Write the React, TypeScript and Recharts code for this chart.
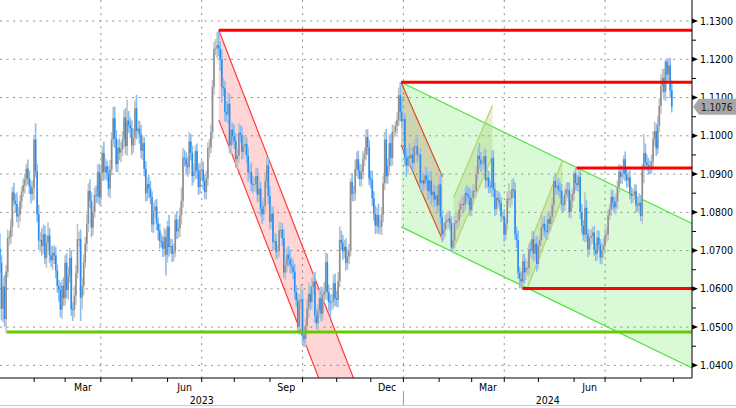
import React from "react";
import {
  ComposedChart, Bar, XAxis, YAxis, CartesianGrid, ReferenceArea, ReferenceLine,
} from "recharts";

// EUR/USD daily closes, one per weekday, Jan 2 2023 .. Aug 29 2024
const closes2023 = [
  // Jan
  1.0668, 1.0548, 1.0606, 1.0521, 1.0645, 1.0733, 1.0736, 1.0762, 1.0852, 1.0830, 1.0822, 1.0789, 1.0794, 1.0829, 1.0855, 1.0871, 1.0886, 1.0914, 1.0889, 1.0868, 1.0848, 1.0863,
  // Feb
  1.0990, 1.0907, 1.0795, 1.0727, 1.0728, 1.0712, 1.0743, 1.0680, 1.0722, 1.0739, 1.0688, 1.0675, 1.0694, 1.0687, 1.0648, 1.0608, 1.0597, 1.0546, 1.0608, 1.0576,
  // Mar
  1.0668, 1.0597, 1.0635, 1.0681, 1.0547, 1.0546, 1.0583, 1.0642, 1.0730, 1.0730, 1.0577, 1.0608, 1.0670, 1.0718, 1.0770, 1.0856, 1.0830, 1.0760, 1.0800, 1.0845, 1.0843, 1.0905, 1.0839,
  // Apr
  1.0901, 1.0955, 1.0905, 1.0920, 1.0902, 1.0862, 1.0912, 1.0990, 1.1046, 1.0993, 1.0926, 1.0969, 1.0956, 1.0965, 1.0990, 1.1048, 1.0973, 1.1040, 1.1028, 1.1020,
  // May
  1.0975, 1.0995, 1.1072, 1.1012, 1.1019, 1.1004, 1.0961, 1.0981, 1.0914, 1.0850, 1.0874, 1.0862, 1.0840, 1.0768, 1.0805, 1.0815, 1.0771, 1.0752, 1.0725, 1.0723, 1.0705, 1.0735, 1.0689,
  // Jun
  1.0763, 1.0709, 1.0712, 1.0692, 1.0698, 1.0781, 1.0750, 1.0758, 1.0793, 1.0830, 1.0943, 1.0939, 1.0924, 1.0918, 1.0985, 1.0956, 1.0895, 1.0906, 1.0960, 1.0910, 1.0866, 1.0909,
  // Jul
  1.0912, 1.0881, 1.0853, 1.0889, 1.0968, 1.0970, 1.1009, 1.1128, 1.1226, 1.1228, 1.1237, 1.1228, 1.1200, 1.1128, 1.1124, 1.1063, 1.1056, 1.1084, 1.0975, 1.1016, 1.0999,
  // Aug
  1.0986, 1.0939, 1.0948, 1.1008, 1.1002, 1.0958, 1.0974, 1.0979, 1.0948, 1.0905, 1.0905, 1.0875, 1.0872, 1.0874, 1.0895, 1.0846, 1.0862, 1.0809, 1.0795, 1.0817, 1.0881, 1.0923, 1.0843,
  // Sep
  1.0775, 1.0797, 1.0722, 1.0725, 1.0697, 1.0699, 1.0753, 1.0754, 1.0732, 1.0643, 1.0661, 1.0690, 1.0678, 1.0663, 1.0658, 1.0645, 1.0592, 1.0571, 1.0501, 1.0567, 1.0573,
  // Oct
  1.0479, 1.0469, 1.0504, 1.0549, 1.0587, 1.0565, 1.0605, 1.0619, 1.0530, 1.0510, 1.0542, 1.0576, 1.0535, 1.0584, 1.0593, 1.0670, 1.0591, 1.0566, 1.0564, 1.0567, 1.0615, 1.0575,
  // Nov
  1.0571, 1.0620, 1.0728, 1.0721, 1.0698, 1.0710, 1.0668, 1.0684, 1.0700, 1.0880, 1.0848, 1.0850, 1.0913, 1.0939, 1.0909, 1.0887, 1.0905, 1.0940, 1.0951, 1.0997, 1.0970, 1.0889,
  // Dec
  1.0884, 1.0837, 1.0796, 1.0765, 1.0793, 1.0762, 1.0763, 1.0794, 1.0876, 1.0990, 1.0894, 1.0921, 1.0981, 1.0942, 1.1010, 1.1012, 1.1026, 1.1041, 1.1106, 1.1062, 1.1038,
];

const closes2024 = [
  // Jan
  1.1044, 1.0942, 1.0922, 1.0946, 1.0942, 1.0951, 1.0929, 1.0972, 1.0973, 1.0951, 1.0951, 1.0877, 1.0884, 1.0875, 1.0897, 1.0885, 1.0855, 1.0883, 1.0845, 1.0854, 1.0833, 1.0844, 1.0818,
  // Feb
  1.0873, 1.0788, 1.0742, 1.0755, 1.0773, 1.0779, 1.0784, 1.0772, 1.0708, 1.0726, 1.0772, 1.0777, 1.0779, 1.0807, 1.0821, 1.0822, 1.0821, 1.0851, 1.0845, 1.0839, 1.0805,
  // Mar
  1.0838, 1.0856, 1.0856, 1.0900, 1.0948, 1.0938, 1.0926, 1.0927, 1.0947, 1.0883, 1.0891, 1.0868, 1.0865, 1.0942, 1.0860, 1.0808, 1.0838, 1.0832, 1.0825, 1.0790, 1.0790,
  // Apr
  1.0742, 1.0771, 1.0835, 1.0836, 1.0837, 1.0861, 1.0858, 1.0743, 1.0727, 1.0642, 1.0626, 1.0619, 1.0672, 1.0643, 1.0655, 1.0655, 1.0703, 1.0699, 1.0730, 1.0692, 1.0718, 1.0665,
  // May
  1.0713, 1.0727, 1.0761, 1.0770, 1.0752, 1.0748, 1.0782, 1.0770, 1.0789, 1.0819, 1.0882, 1.0865, 1.0870, 1.0858, 1.0856, 1.0822, 1.0819, 1.0847, 1.0859, 1.0858, 1.0801, 1.0831, 1.0848,
  // Jun
  1.0902, 1.0876, 1.0871, 1.0893, 1.0801, 1.0765, 1.0741, 1.0812, 1.0742, 1.0703, 1.0733, 1.0738, 1.0747, 1.0702, 1.0692, 1.0734, 1.0715, 1.0682, 1.0701, 1.0713,
  // Jul
  1.0740, 1.0743, 1.0792, 1.0809, 1.0840, 1.0826, 1.0813, 1.0829, 1.0865, 1.0906, 1.0893, 1.0901, 1.0939, 1.0899, 1.0884, 1.0891, 1.0849, 1.0843, 1.0847, 1.0855, 1.0819, 1.0817, 1.0825,
  // Aug
  1.0790, 1.0911, 1.0955, 1.0931, 1.0924, 1.0920, 1.0917, 1.0933, 1.0992, 1.1012, 1.0967, 1.1027, 1.1078, 1.1130, 1.1151, 1.1115, 1.1194, 1.1160, 1.1184, 1.1119, 1.1076,
];

// wick length above / below the candle body, in pips
const highWick = [
  40, 20, 25, 30, 18, 22, 15, 20, 14, 25, 18, 30, 20, 16, 12, 18, 15, 12, 24, 20, 15, 20,
  10, 43, 20, 25, 20, 30, 25, 22, 18, 35, 20, 25, 18, 20, 22, 18, 15, 20, 15, 22,
  20, 25, 22, 26, 20, 18, 25, 20, 40, 20, 25, 22, 20, 18, 25, 20, 30, 22, 18, 20, 25, 20, 22,
  20, 18, 30, 22, 15, 20, 25, 20, 30, 30, 22, 20, 25, 18, 22, 20, 25, 55, 25, 20,
  20, 25, 20, 35, 22, 20, 25, 20, 15, 20, 18, 25, 20, 15, 22, 18, 20, 15, 18, 20, 15, 25, 20,
  15, 30, 20, 18, 20, 15, 22, 25, 20, 35, 25, 20, 18, 22, 25, 20, 18, 22, 15, 20, 18, 20,
  25, 20, 18, 20, 15, 22, 20, 18, 20, 25, 35, 39, 20, 25, 22, 20, 28, 30, 25, 20, 18,
  30, 20, 18, 25, 20, 22, 25, 20, 18, 22, 20, 25, 20, 18, 20, 22, 30, 18, 20, 22, 25, 22, 20,
  25, 20, 18, 22, 20, 15, 22, 20, 18, 25, 20, 18, 22, 25, 20, 18, 20, 18, 15, 20, 40,
  25, 20, 20, 25, 30, 22, 25, 20, 25, 20, 18, 22, 30, 20, 25, 25, 22, 20, 18, 20, 22, 25,
  20, 25, 35, 25, 20, 18, 22, 20, 18, 8, 22, 20, 25, 20, 22, 18, 20, 20, 18, 20, 20, 18,
  20, 25, 18, 22, 20, 30, 18, 20, 20, 20, 28, 20, 22, 25, 20, 15, 12, 20, 20, 34, 40,
  20, 15, 25, 22, 35, 20, 18, 20, 30, 25, 18, 15, 20, 18, 20, 22, 20, 25, 25, 20, 18, 25, 25,
  25, 30, 18, 20, 20, 22, 20, 20, 18, 20, 18, 25, 20, 20, 18, 25, 20, 15, 20, 20, 25,
  20, 18, 15, 20, 20, 33, 20, 18, 20, 18, 20, 18, 15, 20, 20, 18, 20, 18, 20, 15, 10,
  18, 15, 20, 40, 20, 25, 28, 20, 20, 25, 15, 20, 18, 20, 25, 18, 15, 20, 22, 20, 18, 20,
  20, 15, 40, 18, 20, 15, 18, 20, 15, 20, 12, 20, 18, 20, 22, 18, 20, 15, 18, 20, 20, 18, 15,
  5, 14, 20, 20, 15, 20, 15, 40, 20, 15, 20, 18, 15, 18, 18, 20, 18, 15, 20, 20,
  18, 20, 15, 12, 20, 18, 15, 20, 18, 20, 18, 20, 9, 20, 18, 15, 20, 18, 15, 20, 18, 20, 25,
  20, 15, 50, 25, 20, 18, 15, 18, 20, 25, 20, 25, 20, 30, 23, 25, 7, 8, 18, 20, 25,
];

const lowWick = [
  25, 30, 35, 20, 38, 15, 20, 18, 25, 12, 22, 15, 30, 18, 20, 15, 22, 18, 16, 20, 25, 18,
  30, 15, 20, 25, 30, 25, 20, 15, 25, 22, 20, 18, 25, 22, 20, 18, 30, 20, 25, 20,
  20, 22, 25, 20, 18, 30, 20, 25, 15, 20, 61, 30, 25, 15, 20, 22, 18, 25, 20, 15, 20, 18, 20,
  25, 20, 22, 18, 20, 20, 25, 15, 18, 25, 20, 22, 20, 25, 18, 20, 22, 25, 20, 25,
  25, 20, 20, 22, 18, 25, 20, 25, 20, 22, 20, 25, 18, 20, 22, 20, 18, 25, 20, 15, 22, 20, 54,
  20, 25, 18, 22, 20, 15, 20, 18, 22, 25, 18, 20, 22, 25, 18, 20, 25, 18, 20, 22, 20, 18,
  20, 22, 18, 20, 20, 25, 15, 18, 20, 15, 25, 20, 30, 40, 20, 25, 20, 25, 20, 25, 22,
  20, 22, 25, 18, 20, 20, 18, 22, 20, 25, 18, 20, 22, 18, 20, 20, 18, 20, 25, 18, 20, 18, 22,
  20, 18, 22, 20, 18, 20, 15, 18, 20, 15, 20, 18, 20, 22, 18, 20, 20, 18, 15, 20, 20,
  20, 21, 20, 18, 25, 20, 18, 20, 18, 15, 20, 18, 20, 18, 20, 20, 22, 25, 40, 20, 18, 20,
  18, 20, 15, 20, 22, 18, 20, 18, 20, 15, 20, 18, 20, 18, 22, 18, 20, 18, 20, 15, 20, 18,
  20, 20, 18, 22, 20, 18, 20, 22, 20, 18, 18, 20, 18, 22, 20, 15, 12, 20, 15, 25, 18,
  25, 20, 30, 20, 20, 18, 20, 22, 25, 20, 15, 18, 20, 18, 20, 25, 22, 20, 25, 18, 20, 15, 20,
  18, 20, 20, 15, 20, 18, 20, 18, 12, 13, 20, 18, 20, 18, 20, 18, 20, 15, 18, 20, 15,
  15, 20, 18, 15, 18, 25, 20, 18, 15, 20, 20, 18, 15, 25, 20, 18, 15, 18, 20, 15, 10,
  20, 15, 18, 20, 25, 18, 20, 15, 20, 15, 25, 18, 20, 30, 20, 20, 18, 15, 20, 20, 18, 20,
  12, 18, 15, 20, 15, 18, 20, 22, 18, 15, 20, 18, 20, 15, 20, 18, 20, 15, 18, 20, 15, 18, 20,
  18, 20, 15, 20, 18, 20, 15, 20, 18, 20, 15, 18, 20, 15, 20, 18, 15, 16, 18, 20,
  20, 18, 15, 12, 18, 20, 15, 18, 20, 15, 18, 20, 15, 18, 20, 18, 15, 20, 18, 15, 20, 15, 20,
  13, 20, 35, 18, 15, 20, 18, 15, 20, 18, 20, 15, 18, 20, 18, 20, 25, 20, 15, 20, 15,
];

const firstOpen = 1.0705;

// axis labels (x in weekday index)
const monthStarts = [22, 42, 65, 85, 108, 130, 151, 174, 195, 217, 239, 260, 283, 304, 325, 347, 370, 390, 413, 434];
const quarterStarts = [65, 130, 195, 260, 325, 390];
const monthLabels = ["Mar", "Jun", "Sep", "Dec", "Mar", "Jun"];
const monthLabelPos = [53.5, 119, 184.5, 249.5, 314.5, 380];
const yearLabels = ["2023", "2024"];
const yearLabelPos = [130, 353];
const priceTicks = [1.04, 1.05, 1.06, 1.07, 1.08, 1.09, 1.10, 1.11, 1.12, 1.13];
const minorTicks = [1.045, 1.055, 1.065, 1.075, 1.085, 1.095, 1.105, 1.115, 1.125];

// drawn levels: [price, start index]
const redLevels = [[1.1276, 141], [1.1140, 258.5], [1.0916, 371.6], [1.0601, 336.8]];
const greenLevel = [1.0487, 4.5];

// channels: corners [index, price] — edges 0->1 and 3->2 are stroked
const redChannel = [[141, 1.1276], [227.8, 1.0367], [205.4, 1.0367], [141, 1.1041]];
const greenChannel = [[258.5, 1.1140], [446, 1.0771], [446, 1.0393], [258.5, 1.0762]];
const brownChannel = [[258.5, 1.1140], [285.2, 1.0893], [285.2, 1.0728], [258.5, 1.0976]];
const oliveChannelA = [[292.3, 1.0838], [317.4, 1.1080], [317.4, 1.0947], [292.3, 1.0705]];
const oliveChannelB = [[340, 1.0702], [362.6, 1.0937], [362.6, 1.0838], [340, 1.0603]];

const X_MAX = 446;
const Y_MIN = 1.0367;
const Y_MAX = 1.1355;
const FONT = "Tahoma, 'DejaVu Sans Condensed', 'Liberation Sans', sans-serif";

const closes = [...closes2023, ...closes2024];
const lastClose = closes[closes.length - 1];

const candles = closes.map((c, i) => {
  const o = i === 0 ? firstOpen : closes[i - 1];
  const hi = Math.max(o, c) + (highWick[i] ?? 15) / 10000;
  const lo = Math.min(o, c) - (lowWick[i] ?? 15) / 10000;
  return { i, o, c, hi, lo, range: [lo, hi] };
});

function Candle(props: any) {
  const { x, y, width, height, payload } = props;
  if (!payload || x == null) return null;
  const cx = x + width / 2;
  const top = Math.min(y, y + height);
  const h = Math.abs(height);
  const span = payload.hi - payload.lo || 1e-9;
  const py = (v: number) => top + ((payload.hi - v) / span) * h;
  const up = payload.c >= payload.o;
  const b1 = py(Math.max(payload.o, payload.c));
  const b2 = py(Math.min(payload.o, payload.c));
  return (
    <g>
      <rect x={cx - 0.8} y={top} width={1.6} height={Math.max(h, 1)} fill={up ? "#c2c2c2" : "#86bdf4"} />
      <rect x={cx - 0.8} y={b1} width={1.6} height={Math.max(b2 - b1, 1)} fill={up ? "#8e8e8e" : "#2a8cf0"} />
    </g>
  );
}

function channel(pts: number[][], fill: string, opacity: number, stroke: string) {
  const xs = pts.map((p) => p[0]);
  const vs = pts.map((p) => p[1]);
  const x1 = Math.min(...xs), x2 = Math.max(...xs);
  const v1 = Math.min(...vs), v2 = Math.max(...vs);
  const shape = (p: any) => {
    const left = Math.min(p.x, p.x + p.width);
    const top = Math.min(p.y, p.y + p.height);
    const w = Math.abs(p.width), h = Math.abs(p.height);
    const P = pts.map(([d, v]) => [left + ((d - x1) / (x2 - x1)) * w, top + ((v2 - v) / (v2 - v1)) * h]);
    return (
      <g>
        <polygon points={P.map((q) => q.join(",")).join(" ")} fill={fill} fillOpacity={opacity} stroke="none" />
        <line x1={P[0][0]} y1={P[0][1]} x2={P[1][0]} y2={P[1][1]} stroke={stroke} strokeWidth={1.2} />
        <line x1={P[3][0]} y1={P[3][1]} x2={P[2][0]} y2={P[2][1]} stroke={stroke} strokeWidth={1.2} />
      </g>
    );
  };
  return <ReferenceArea x1={x1} x2={x2} y1={v1} y2={v2} shape={shape} ifOverflow="visible" />;
}

const xTicks = Array.from(new Set([...monthStarts, ...monthLabelPos, ...yearLabelPos])).sort((a, b) => a - b);
const yTicks = [...priceTicks, ...minorTicks, lastClose];

function TimeTick(props: any) {
  const { x, y, payload } = props;
  const v = payload.value;
  const li = monthLabelPos.indexOf(v);
  const yi = yearLabelPos.indexOf(v);
  return (
    <g>
      {monthStarts.includes(v) && <line x1={x} x2={x} y1={y} y2={y + 4} stroke="#000" />}
      {v === 260 && <line x1={x} x2={x} y1={y + 13} y2={y + 27} stroke="#999" />}
      {li >= 0 && (
        <text x={x} y={y + 13} textAnchor="middle" fontSize={10.5} fontFamily={FONT} fill="#000">{monthLabels[li]}</text>
      )}
      {yi >= 0 && (
        <text x={x} y={y + 26} textAnchor="middle" fontSize={10.5} fontFamily={FONT} fill="#000">{yearLabels[yi]}</text>
      )}
    </g>
  );
}

function PriceTick(props: any) {
  const { x, y, payload } = props;
  const v = payload.value;
  if (v === lastClose) {
    return (
      <g>
        <path d={`M${x + 1},${y} L${x + 7},${y - 8} L${x + 46},${y - 8} L${x + 46},${y + 8} L${x + 7},${y + 8} Z`} fill="#a6a6a6" />
        <text x={x + 9} y={y + 4.5} fontSize={10} fontFamily={FONT} fill="#1a1a1a">{v.toFixed(4)}</text>
      </g>
    );
  }
  if (priceTicks.includes(v)) {
    return (
      <g>
        <path d={`M${x},${y - 2.5} L${x + 6},${y} L${x},${y + 2.5} Z`} fill="#000" />
        <text x={x + 8} y={y + 3.5} fontSize={10.5} fontFamily={FONT} fill="#000">{v.toFixed(4)}</text>
      </g>
    );
  }
  return <line x1={x} x2={x + 4} y1={y} y2={y} stroke="#000" />;
}

export default function App() {
  return (
    <div style={{ position: "absolute", left: 0, top: 0, width: 736, height: 408, background: "#fff", overflow: "hidden" }}>
      <ComposedChart width={736} height={408} data={candles} margin={{ top: 0, right: 0, bottom: 0, left: 0 }}>
        <CartesianGrid
          stroke="#8f8f8f"
          strokeDasharray="2 4.6"
          horizontalValues={priceTicks}
          verticalValues={quarterStarts}
        />
        <XAxis
          type="number"
          dataKey="i"
          domain={[0, X_MAX]}
          allowDataOverflow
          ticks={xTicks}
          interval={0}
          height={30}
          tickLine={false}
          tickSize={0}
          tickMargin={0}
          axisLine={{ stroke: "#000" }}
          tick={<TimeTick />}
        />
        <YAxis
          orientation="right"
          type="number"
          domain={[Y_MIN, Y_MAX]}
          allowDataOverflow
          ticks={yTicks}
          interval={0}
          width={44}
          tickLine={false}
          tickSize={0}
          tickMargin={0}
          axisLine={{ stroke: "#000" }}
          tick={<PriceTick />}
        />
        <Bar dataKey="range" barSize={2} shape={<Candle />} isAnimationActive={false} />
        {channel(greenChannel, "#33dd22", 0.18, "#4ce43a")}
        {channel(redChannel, "#ff0000", 0.16, "#ff3a3a")}
        {channel(brownChannel, "#a04010", 0.2, "#d8502a")}
        {channel(oliveChannelA, "#9cc050", 0.25, "#b2d46c")}
        {channel(oliveChannelB, "#9cc050", 0.25, "#b2d46c")}
        {redLevels.map(([v, start], k) => (
          <ReferenceLine key={k} segment={[{ x: start, y: v }, { x: X_MAX, y: v }]} stroke="#ff0000" strokeWidth={3} />
        ))}
        <ReferenceLine segment={[{ x: greenLevel[1], y: greenLevel[0] }, { x: X_MAX, y: greenLevel[0] }]} stroke="#66cc00" strokeWidth={3} />
      </ComposedChart>
      <div style={{ position: "absolute", left: 0, top: 405, width: 736, height: 1, background: "#c8c8c8" }} />
    </div>
  );
}
